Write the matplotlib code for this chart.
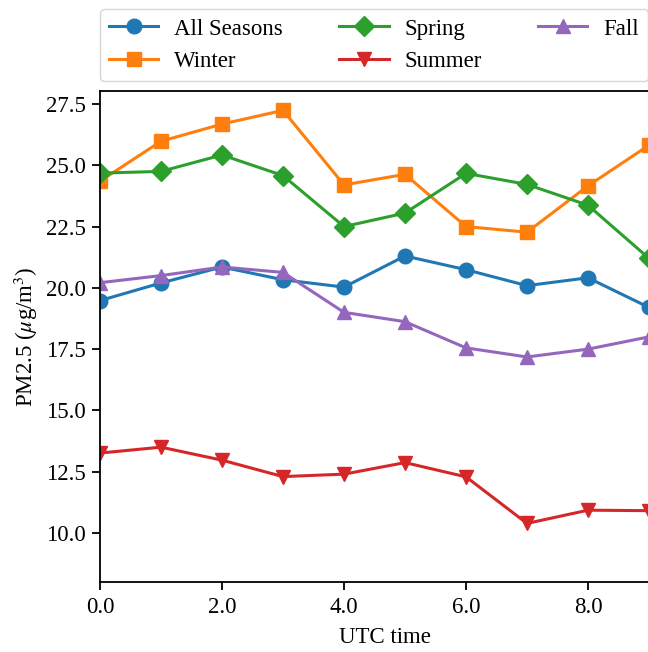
import numpy as np
import matplotlib.pyplot as plt
from matplotlib.ticker import FormatStrFormatter

plt.rcParams['font.family'] = ['Liberation Serif', 'DejaVu Serif']
plt.rcParams['mathtext.fontset'] = 'stix'

hours = [0, 1, 2, 3, 4, 5, 6, 7, 8, 9]
all_seasons = [19.48, 20.2, 20.85, 20.33, 20.03, 21.3, 20.74, 20.09, 20.41, 19.2]
winter = [24.35, 25.98, 26.68, 27.24, 24.2, 24.63, 22.5, 22.27, 24.16, 25.82]
spring = [24.68, 24.75, 25.42, 24.58, 22.5, 23.05, 24.67, 24.22, 23.37, 21.2]
summer = [13.26, 13.5, 12.97, 12.3, 12.4, 12.87, 12.29, 10.39, 10.93, 10.91]
fall = [20.21, 20.5, 20.85, 20.63, 19.0, 18.62, 17.55, 17.18, 17.5, 18.0]

series = [
    ("All Seasons", all_seasons, "tab:blue", "o"),
    ("Winter", winter, "tab:orange", "s"),
    ("Spring", spring, "tab:green", "D"),
    ("Summer", summer, "tab:red", "v"),
    ("Fall", fall, "tab:purple", "^"),
]

fig = plt.figure(figsize=(6.48, 6.52), dpi=100)
ax = fig.add_axes([100 / 648, 70 / 652, 570 / 648, 491 / 652])

for name, vals, col, mk in series:
    ax.plot(hours, vals, color=col, marker=mk, markersize=10.5, linewidth=2.2, label=name)

ax.set_xlim(0, 570 / 61)
ax.set_ylim(8.0, 28.03)
ax.set_xticks([0, 2, 4, 6, 8])
ax.set_yticks(np.arange(10, 27.6, 2.5))
ax.xaxis.set_major_formatter(FormatStrFormatter('%.1f'))
ax.yaxis.set_major_formatter(FormatStrFormatter('%.1f'))
ax.tick_params(labelsize=16.5, width=1.3, length=6, pad=4.5)
for sp in ax.spines.values():
    sp.set_linewidth(1.3)

ax.set_xlabel("UTC time", fontsize=16.5, labelpad=7)
ax.set_ylabel("PM2.5 ($\\mu$g/m$^3$)", fontsize=16.5, labelpad=4)

ax.legend(loc="lower left", bbox_to_anchor=(0, 1.02), borderaxespad=0, ncol=3,
          fontsize=16.5, columnspacing=2.45, handlelength=2.15, handletextpad=0.7)

fig.savefig("out.png", dpi=100)
